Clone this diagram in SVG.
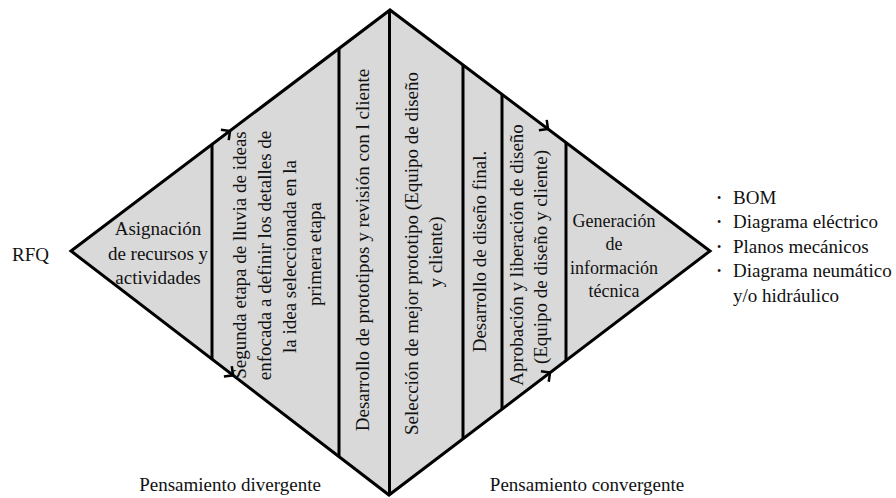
<svg xmlns="http://www.w3.org/2000/svg" width="896" height="498" viewBox="0 0 896 498">
  <style>
    .shape { fill: #d9d9d9; stroke: #000; stroke-width: 3; stroke-linejoin: miter; }
    .div { stroke: #000; stroke-width: 3; fill: none; }
    .t { font-size: 19px; fill: #111; }
    .c { text-anchor: middle; }
    .small { font-size: 18px; }
    .bullet { font-size: 12px; }
    .arrow { fill: none; stroke: #000; stroke-width: 2.5; stroke-linejoin: miter; }
  </style>
  <defs>
    <!-- open chevron arrowhead, tip at the origin, pointing along +x -->
    <path id="chev" class="arrow" d="M-6.5,-6.5 L0,0 L-6.5,6.5"/>
  </defs>

  <rect width="896" height="498" fill="#fff"/>

  <!-- outer diamond -->
  <g id="diamond">
    <polygon class="shape" points="71,251 390,10 710,251 389,495"/>
  </g>

  <g class="t" font-family="'Liberation Serif', 'Tinos', 'Times New Roman', 'DejaVu Serif', serif">
    <!-- input -->
    <g id="rfq">
      <text x="12" y="261">RFQ</text>
    </g>

    <!-- stage 1 -->
    <g id="asignacion">
      <text class="c" x="158" y="235">Asignación</text>
      <text class="c" x="158" y="259.5">de recursos y</text>
      <text class="c" x="158" y="284">actividades</text>
    </g>

    <!-- stage 2 -->
    <g id="lluvia-ideas">
      <line class="div" x1="212" y1="144.5" x2="212" y2="359"/>
      <text class="c" transform="translate(245.5,255) rotate(-90)">Segunda etapa de lluvia de ideas</text>
      <text class="c" transform="translate(270.5,255.5) rotate(-90)">enfocada a definir los detalles de</text>
      <text class="c" transform="translate(296,256.5) rotate(-90)">la idea seleccionada en la</text>
      <text class="c" transform="translate(321,254) rotate(-90)">primera etapa</text>
    </g>

    <!-- stage 3 -->
    <g id="prototipos">
      <line class="div" x1="339" y1="48.5" x2="339" y2="456.5"/>
      <text class="c" transform="translate(369,250) rotate(-90)">Desarrollo de prototipos y revisión con l cliente</text>
    </g>

    <!-- stage 4 -->
    <g id="seleccion">
      <line class="div" x1="389.5" y1="10" x2="389.5" y2="495"/>
      <text class="c" transform="translate(418,253.5) rotate(-90)">Selección de mejor prototipo (Equipo de diseño</text>
      <text class="c" transform="translate(442,252) rotate(-90)">y cliente)</text>
    </g>

    <!-- stage 5 -->
    <g id="diseno-final">
      <line class="div" x1="463" y1="65" x2="463" y2="439"/>
      <text class="c" transform="translate(486,251.5) rotate(-90)">Desarrollo de diseño final.</text>
    </g>

    <!-- stage 6 -->
    <g id="aprobacion">
      <line class="div" x1="502" y1="94.3" x2="502" y2="409"/>
      <text class="c" transform="translate(523,255) rotate(-90)">Aprobación y liberación de diseño</text>
      <text class="c" transform="translate(547,257) rotate(-90)">(Equipo de diseño y cliente)</text>
    </g>

    <!-- stage 7 -->
    <g id="generacion">
      <line class="div" x1="566" y1="142.5" x2="566" y2="360.5"/>
      <text class="c small" x="614" y="227">Generación</text>
      <text class="c small" x="614" y="250">de</text>
      <text class="c small" x="614" y="273.5">información</text>
      <text class="c small" x="614" y="297">técnica</text>
    </g>

    <!-- deliverables -->
    <g id="entregables">
      <text class="bullet" x="717" y="201.5">•</text>
      <text x="733" y="203.5">BOM</text>
      <text class="bullet" x="717" y="226">•</text>
      <text x="733" y="228">Diagrama eléctrico</text>
      <text class="bullet" x="717" y="250.5">•</text>
      <text x="733" y="252.5">Planos mecánicos</text>
      <text class="bullet" x="717" y="275">•</text>
      <text x="733" y="277">Diagrama neumático</text>
      <text x="733" y="301.5">y/o hidráulico</text>
    </g>

    <!-- phase labels -->
    <g id="divergente">
      <text class="c" x="230" y="491">Pensamiento divergente</text>
    </g>
    <g id="convergente">
      <text class="c" x="587" y="491">Pensamiento convergente</text>
    </g>
  </g>

  <!-- flow arrows along the diamond edges -->
  <g id="connectors">
    <use href="#chev" transform="translate(230,131) rotate(-37.07)"/>
    <use href="#chev" transform="translate(233,375.3) rotate(37.5)"/>
    <use href="#chev" transform="translate(548,129) rotate(37)"/>
    <use href="#chev" transform="translate(550,372.6) rotate(-37.2)"/>
  </g>
</svg>
